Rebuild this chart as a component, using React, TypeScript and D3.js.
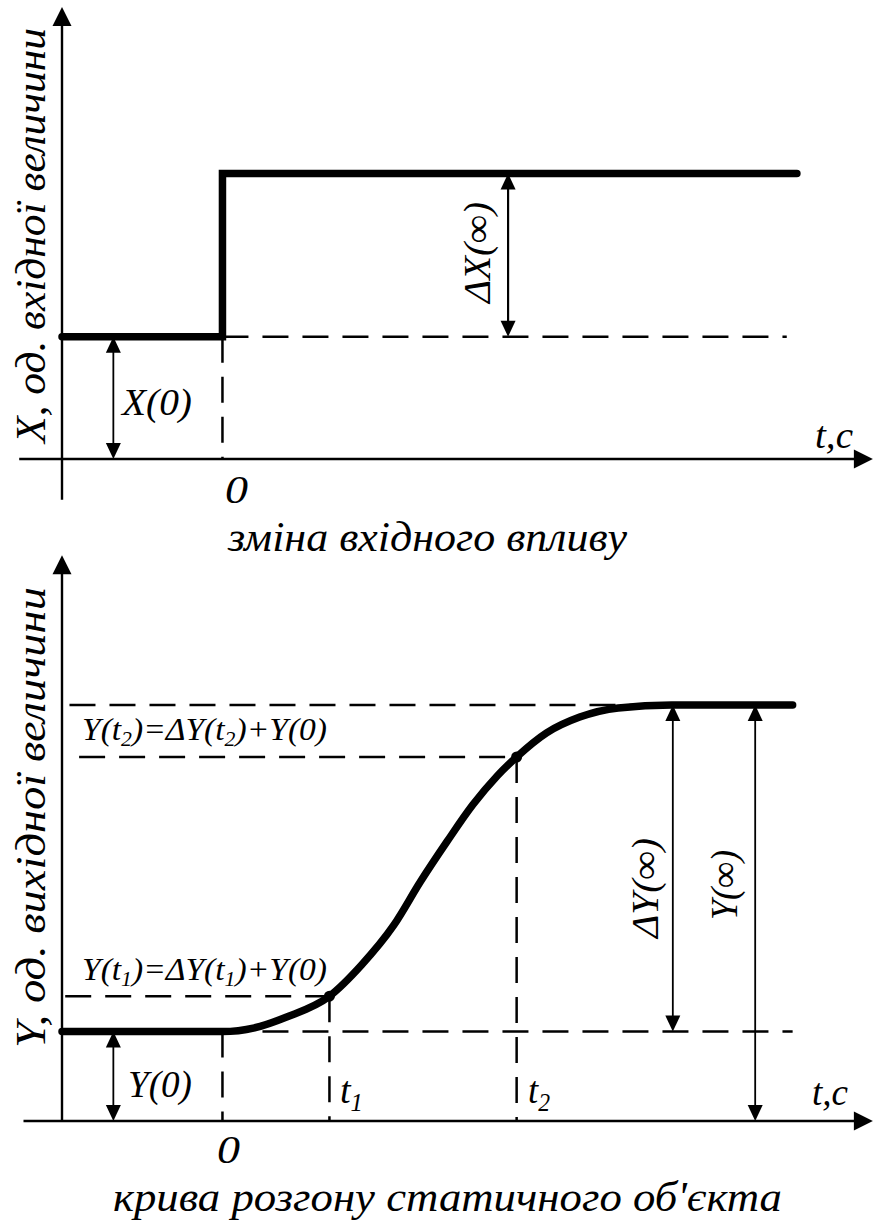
import React from 'react';
import * as d3 from 'd3';

// зміна вхідного впливу (стрибок)
const stepT = [-15, 0, 53.7];
const stepX = [3, 7, 7];

// крива розгону статичного об'єкта
const curveT = [-15, 0, 3, 6, 10, 13, 16, 18.5, 21, 23.4, 25.7, 27.5, 30.3, 33.4, 37, 42, 53.3];
const curveY = [2.15, 2.15, 2.24, 2.5, 3.0, 3.75, 4.7, 5.75, 6.72, 7.6, 8.3, 8.75, 9.33, 9.71, 9.93, 10, 10];

const x0 = 3;
const xInf = 7;
const y0 = 2.15;
const yInf = 10;
const t1 = 10;
const t2 = 27.5;
const yT1 = 3.0;
const yT2 = 8.75;

const DASH = '26 14';
const FONT = "'Liberation Serif', 'Times New Roman', serif";

const x = d3.scaleLinear().domain([-15, 61]).range([62, 875]);
const yTop = d3.scaleLinear().domain([0, 7]).range([459, 173.5]);
const yBot = d3.scaleLinear().domain([0, 10]).range([1121, 705]);

type Part = { s: string; sub?: boolean };

function Label(props: { parts: Part[]; x: number; y: number; size: number; len?: number; rot?: boolean }) {
  const { parts, size, len, rot } = props;
  const pos = rot
    ? { transform: `translate(${props.x},${props.y}) rotate(-90)` }
    : { x: props.x, y: props.y };
  const st = { fontFamily: FONT, fontStyle: 'italic' as const, fontSize: size };
  let content: React.ReactNode;
  if (parts.length === 1) {
    content = parts[0].s;
  } else {
    let shifted = false;
    content = parts.map((p, i) => {
      let dy: number | undefined;
      let fs = size;
      if (p.sub) {
        dy = size * 0.2;
        fs = size * 0.65;
        shifted = true;
      } else if (shifted) {
        dy = -size * 0.2;
        shifted = false;
      }
      return (
        <tspan key={i} dy={dy} style={{ ...st, fontSize: fs }}>
          {p.s}
        </tspan>
      );
    });
  }
  return (
    <text
      {...pos}
      textLength={len}
      lengthAdjust={len ? 'spacingAndGlyphs' : undefined}
      style={st}
      fill="#000"
    >
      {content}
    </text>
  );
}

function Seg(p: { x1: number; y1: number; x2: number; y2: number; w: number; dash?: string }) {
  return <line x1={p.x1} y1={p.y1} x2={p.x2} y2={p.y2} stroke="#000" strokeWidth={p.w} strokeDasharray={p.dash} />;
}

function head(tx: number, ty: number, dir: string, len: number, hw: number) {
  if (dir === 'up') return `M${tx},${ty}L${tx - hw},${ty + len}L${tx + hw},${ty + len}Z`;
  if (dir === 'down') return `M${tx},${ty}L${tx - hw},${ty - len}L${tx + hw},${ty - len}Z`;
  return `M${tx},${ty}L${tx - len},${ty - hw}L${tx - len},${ty + hw}Z`;
}

// двостороння розмірна стрілка
function Dim(p: { px: number; yA: number; yB: number; w: number }) {
  return (
    <g>
      <Seg x1={p.px} y1={p.yA + 8} x2={p.px} y2={p.yB - 8} w={p.w} />
      <path d={head(p.px, p.yA, 'up', 16, 7.5)} fill="#000" />
      <path d={head(p.px, p.yB, 'down', 16, 7.5)} fill="#000" />
    </g>
  );
}

export default function App() {
  const stepLine = d3.line<number>()
    .x((d, i) => x(stepT[i]))
    .y((d) => yTop(d))
    .curve(d3.curveStepAfter);
  const curve = d3.line<number>()
    .x((d, i) => x(curveT[i]))
    .y((d) => yBot(d))
    .curve(d3.curveMonotoneX);
  const tipX = x(60.8);

  return (
    <svg
      width={873}
      height={1220}
      style={{ position: 'absolute', left: 0, top: 0, background: '#fff', fontFamily: FONT }}
    >
      {/* верхній графік */}
      <Seg x1={x(-19)} y1={yTop(0)} x2={tipX - 10} y2={yTop(0)} w={2.4} />
      <path d={head(tipX, yTop(0), 'right', 19, 9.5)} fill="#000" />
      <Seg x1={x(-15)} y1={yTop(-1)} x2={x(-15)} y2={yTop(11.08) + 10} w={2.4} />
      <path d={head(x(-15), yTop(11.08), 'up', 19, 9.5)} fill="#000" />

      <Seg x1={x(0)} y1={yTop(x0)} x2={x(52.75)} y2={yTop(x0)} w={2.5} dash={DASH} />
      <Seg x1={x(0)} y1={yTop(x0)} x2={x(0)} y2={yTop(0)} w={2.5} dash={DASH} />

      <path d={stepLine(stepX) || ''} fill="none" stroke="#000" strokeWidth={7.5} strokeLinecap="round" />

      <Dim px={x(-10.2)} yA={yTop(x0)} yB={yTop(0)} w={1.8} />
      <Dim px={x(26.7)} yA={yTop(xInf)} yB={yTop(x0)} w={2.2} />

      <Label parts={[{ s: 'X(0)' }]} x={122} y={415} size={38} len={70} />
      <Label parts={[{ s: 'ΔX(∞)' }]} x={490} y={303} size={38} len={101} rot />
      <Label parts={[{ s: 't,c' }]} x={815} y={448} size={38} len={38} />
      <Label parts={[{ s: '0' }]} x={225} y={503} size={40} len={23} />
      <Label parts={[{ s: 'зміна вхідного впливу' }]} x={228} y={551} size={42} len={399} />
      <Label parts={[{ s: 'X, од. вхідної величини' }]} x={45} y={443} size={42} len={415} rot />

      {/* нижній графік */}
      <Seg x1={x(-18.6)} y1={yBot(0)} x2={tipX - 10} y2={yBot(0)} w={2.4} />
      <path d={head(tipX, yBot(0), 'right', 19, 9.5)} fill="#000" />
      <Seg x1={x(-15)} y1={yBot(0)} x2={x(-15)} y2={yBot(13.6) + 10} w={2.4} />
      <path d={head(x(-15), yBot(13.6), 'up', 19, 9.5)} fill="#000" />

      <Seg x1={x(-14.3)} y1={yBot(yInf)} x2={x(40)} y2={yBot(yInf)} w={2.5} dash={DASH} />
      <Seg x1={x(-13.4)} y1={yBot(yT2)} x2={x(t2)} y2={yBot(yT2)} w={2.5} dash={DASH} />
      <Seg x1={x(-14.7)} y1={yBot(yT1)} x2={x(t1)} y2={yBot(yT1)} w={2.5} dash={DASH} />
      <Seg x1={x(0)} y1={yBot(y0)} x2={x(53.3)} y2={yBot(y0)} w={2.5} dash={DASH} />
      <Seg x1={x(0)} y1={yBot(y0)} x2={x(0)} y2={yBot(0)} w={2.5} dash={DASH} />
      <Seg x1={x(t1)} y1={yBot(yT1)} x2={x(t1)} y2={yBot(0)} w={2.5} dash={DASH} />
      <Seg x1={x(t2)} y1={yBot(yT2)} x2={x(t2)} y2={yBot(0)} w={2.5} dash={DASH} />

      <path d={curve(curveY) || ''} fill="none" stroke="#000" strokeWidth={7.5} strokeLinecap="round" />
      {[[t1, yT1], [t2, yT2]].map((d, i) => (
        <circle key={i} cx={x(d[0])} cy={yBot(d[1])} r={5.5} fill="#000" />
      ))}

      <Dim px={x(-10.2)} yA={yBot(y0)} yB={yBot(0)} w={1.8} />
      <Dim px={x(42.1)} yA={yBot(yInf)} yB={yBot(y0)} w={1.8} />
      <Dim px={x(49.8)} yA={yBot(yInf)} yB={yBot(0)} w={1.8} />

      <Label parts={[{ s: 'Y(t' }, { s: '2', sub: true }, { s: ')=ΔY(t' }, { s: '2', sub: true }, { s: ')+Y(0)' }]} x={82} y={740} size={32} len={245} />
      <Label parts={[{ s: 'Y(t' }, { s: '1', sub: true }, { s: ')=ΔY(t' }, { s: '1', sub: true }, { s: ')+Y(0)' }]} x={82} y={980} size={32} len={245} />
      <Label parts={[{ s: 'Y(0)' }]} x={128} y={1097} size={38} len={64} />
      <Label parts={[{ s: 't' }, { s: '1', sub: true }]} x={340} y={1103} size={38} len={23} />
      <Label parts={[{ s: 't' }, { s: '2', sub: true }]} x={528} y={1103} size={38} len={22} />
      <Label parts={[{ s: 't,c' }]} x={812} y={1105} size={38} len={36} />
      <Label parts={[{ s: '0' }]} x={217} y={1163} size={40} len={23} />
      <Label parts={[{ s: 'крива розгону статичного об\'єкта' }]} x={113} y={1211} size={42} len={669} />
      <Label parts={[{ s: 'ΔY(∞)' }]} x={658} y={938} size={38} len={100} rot />
      <Label parts={[{ s: 'Y(∞)' }]} x={737} y={920} size={38} len={70} rot />
      <Label parts={[{ s: 'Y, од. вихідної величини' }]} x={45} y={1048} size={42} len={461} rot />
    </svg>
  );
}
